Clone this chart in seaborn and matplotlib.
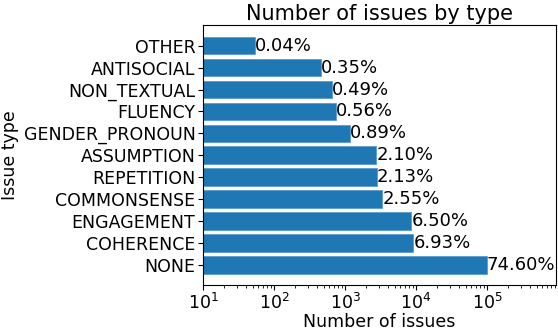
import numpy as np
import pandas as pd
import matplotlib
matplotlib.use("Agg")
import matplotlib.pyplot as plt
import seaborn as sns

# issue types as shown top to bottom
issue_types = ["OTHER", "ANTISOCIAL", "NON_TEXTUAL", "FLUENCY", "GENDER_PRONOUN",
               "ASSUMPTION", "REPETITION", "COMMONSENSE", "ENGAGEMENT", "COHERENCE", "NONE"]
counts = [53, 462, 647, 739, 1175, 2772, 2812, 3366, 8580, 9148, 98470]
pct_labels = ["0.04%", "0.35%", "0.49%", "0.56%", "0.89%", "2.10%", "2.13%",
              "2.55%", "6.50%", "6.93%", "74.60%"]

sns.set_style("ticks", {"text.color": "black", "axes.labelcolor": "black",
                        "xtick.color": "black", "ytick.color": "black",
                        "axes.edgecolor": "black"})
plt.rcParams["font.family"] = ["DejaVu Sans"]

df = pd.DataFrame({"Issue type": issue_types, "Number of issues": counts})

fig, ax = plt.subplots(figsize=(5.58, 3.3), dpi=100)
sns.barplot(data=df, y="Issue type", x="Number of issues", order=issue_types,
            color="#1f77b4", saturation=1, width=0.8, orient="h",
            edgecolor="#5a9bd0", linewidth=0.6, ax=ax)
ax.set_xscale("log")
ax.set_xlim(10, 9.3e5)
ax.set_ylim(len(issue_types) - 1 + 0.94, -0.94)
ax.bar_label(ax.containers[0], labels=pct_labels, padding=0, fontsize=13, color="black")
ax.set_title("Number of issues by type", fontsize=15, color="black", pad=4)
ax.set_xlabel("Number of issues", fontsize=12.5, labelpad=0)
ax.set_ylabel("Issue type", fontsize=12.5, labelpad=3)
ax.tick_params(labelsize=12.5, pad=2)
for s in ax.spines.values():
    s.set_visible(True)
    s.set_linewidth(0.8)

fig.subplots_adjust(left=0.364, right=0.996, top=0.924, bottom=0.135)
fig.savefig("out.png", dpi=100)
